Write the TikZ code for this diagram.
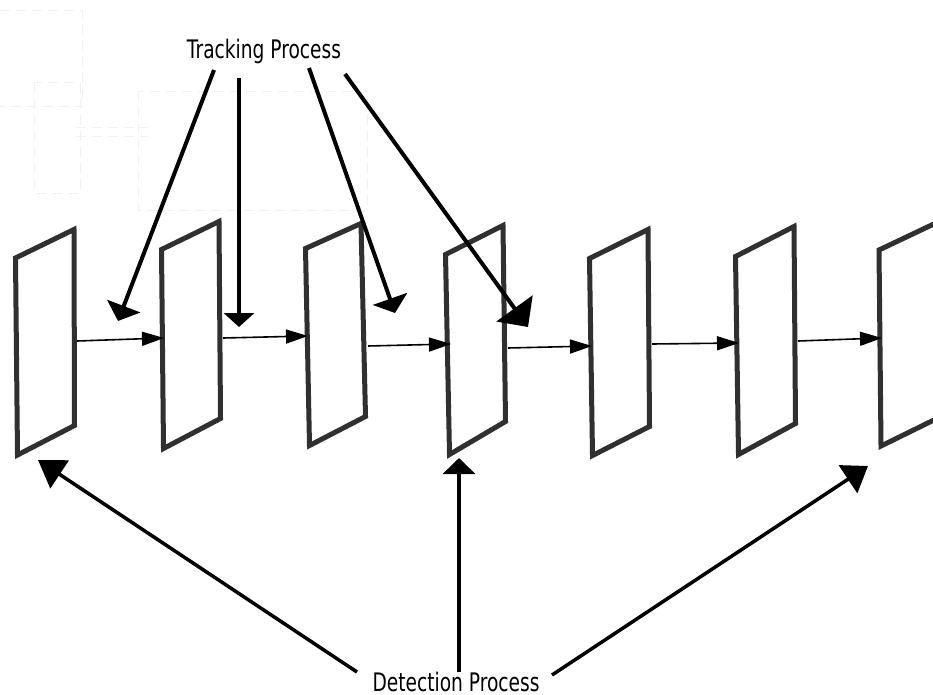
\documentclass[tikz,border=0pt]{standalone}
\usepackage{fontspec}
\setmainfont{DejaVu Sans}
\usetikzlibrary{arrows.meta}
\definecolor{framegray}{HTML}{303030}
\definecolor{ghost}{HTML}{F2F2F2}
\tikzset{
  frame/.style={draw=framegray, line width=5pt, line join=miter, fill=white},
  flow/.style={draw=black, line width=1.6pt, -{Triangle[length=22pt,width=14pt]}},
  track/.style={draw=black, line width=4pt},
  detect/.style={draw=black, line width=3.5pt},
  label/.style={inner sep=0pt, anchor=base, font=\fontsize{25.5}{30}\selectfont},
  ghostline/.style={draw=ghost, line width=1pt, dash pattern=on 10pt off 6pt}
}
\newcommand{\condensed}[1]{\scalebox{0.73}[1]{#1}}
\begin{document}
\begin{tikzpicture}[x=1pt, y=-1pt]
\useasboundingbox (0,0) rectangle (933,695);
\fill[white] (0,0) rectangle (933,695);

% faint leftover guide rectangles
\draw[ghostline] (0,11) -- (82,11) -- (82,107) -- (0,107);
\draw[ghostline] (34,83) rectangle (80,193);
\draw[ghostline] (76,128) -- (148,128);
\draw[ghostline] (76,137) -- (148,137);
\draw[ghostline] (138,92) rectangle (367,210);

% frame corners: top-left, top-right, bottom-right, bottom-left
\coordinate (f1tl) at (15.5,258);  \coordinate (f1tr) at (74,229.5);
\coordinate (f1br) at (74.5,425.5); \coordinate (f1bl) at (17.5,455);
\coordinate (f2tl) at (161.5,249.5); \coordinate (f2tr) at (219,221.5);
\coordinate (f2br) at (220.5,418.5); \coordinate (f2bl) at (163.5,448.5);
\coordinate (f3tl) at (305.5,248.5); \coordinate (f3tr) at (361,223.5);
\coordinate (f3br) at (365.5,416.5); \coordinate (f3bl) at (309.5,445.5);
\coordinate (f4tl) at (445.5,254.5); \coordinate (f4tr) at (503,225.5);
\coordinate (f4br) at (505.5,421.5); \coordinate (f4bl) at (449.5,454.5);
\coordinate (f5tl) at (589.5,258.5); \coordinate (f5tr) at (648,229.5);
\coordinate (f5br) at (649.5,426.5); \coordinate (f5bl) at (592.5,455.5);
\coordinate (f6tl) at (735.5,256.5); \coordinate (f6tr) at (794,226.5);
\coordinate (f6br) at (795.5,423.5); \coordinate (f6bl) at (738.5,454.5);
\coordinate (f7tl) at (879,250);    \coordinate (f7tr) at (938,222);
\coordinate (f7br) at (940,417);    \coordinate (f7bl) at (881,446);

\foreach \i in {1,...,7}
  \draw[frame] (f\i tl) -- (f\i tr) -- (f\i br) -- (f\i bl) -- cycle;

% links between consecutive frames
\coordinate (o1) at (77,341);  \coordinate (i2) at (164,338);
\coordinate (o2) at (223,338); \coordinate (i3) at (308,336);
\coordinate (o3) at (368,346); \coordinate (i4) at (451,344);
\coordinate (o4) at (508,348); \coordinate (i5) at (592,346);
\coordinate (o5) at (652,344); \coordinate (i6) at (739,343);
\coordinate (o6) at (798,341); \coordinate (i7) at (882,338);
\draw[flow] (o1) -- (i2);
\draw[flow] (o2) -- (i3);
\draw[flow] (o3) -- (i4);
\draw[flow] (o4) -- (i5);
\draw[flow] (o5) -- (i6);
\draw[flow] (o6) -- (i7);

% labels
\node[label] (tp) at (264,59) {\condensed{Tracking Process}};
\node[label] (dp) at (456,691.5) {\condensed{Detection Process}};

% tracking arrows
\coordinate (ts1) at (214,70);  \coordinate (te1) at (118,321);
\coordinate (ts2) at (239,78);  \coordinate (te2) at (239,327);
\coordinate (ts3) at (309,68);  \coordinate (te3) at (395,313);
\coordinate (ts4) at (345,74);  \coordinate (te4) at (528,327);
\draw[track, -{Triangle[length=16pt,width=35pt]}] (ts1) -- (te1);
\draw[track, -{Triangle[length=14pt,width=30pt]}] (ts2) -- (te2);
\draw[track, -{Triangle[length=15pt,width=36pt]}] (ts3) -- (te3);
\draw[track, -{Triangle[length=23pt,width=44pt]}] (ts4) -- (te4);

% detection arrows
\coordinate (ds1) at (357,672); \coordinate (de1) at (38,460);
\coordinate (ds2) at (459,672); \coordinate (de2) at (459,458);
\coordinate (ds3) at (552,675); \coordinate (de3) at (868,466);
\draw[detect, -{Triangle[length=26pt,width=33pt]}] (ds1) -- (de1);
\draw[detect, -{Triangle[length=16pt,width=32pt]}] (ds2) -- (de2);
\draw[detect, -{Triangle[length=24pt,width=33pt]}] (ds3) -- (de3);
\end{tikzpicture}
\end{document}
